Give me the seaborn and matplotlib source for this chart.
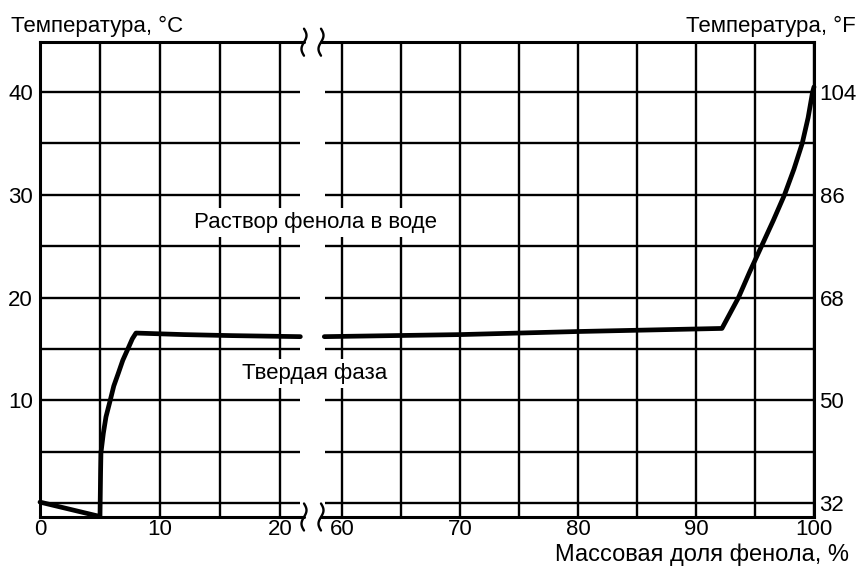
import matplotlib
matplotlib.use('Agg')
import matplotlib.pyplot as plt
from matplotlib.lines import Line2D
import numpy as np
import seaborn as sns

# phenol mass fraction, % -> temperature, °C
left_x = [0, 5.0, 5.05, 5.08, 5.28, 5.5, 5.83, 6.15, 6.53, 6.9, 7.36, 7.7, 8.0, 12.0, 16.0, 21.7]
left_y = [0.1, -1.3, 3.0, 4.9, 6.8, 8.4, 9.9, 11.4, 12.65, 13.9, 15.1, 16.0, 16.55, 16.4, 16.3, 16.2]
right_x = [58.5, 70, 80, 92.2, 93.6, 94.55, 95.55, 96.55, 97.5, 98.3, 99.0, 99.5, 99.88, 100]
right_y = [16.2, 16.4, 16.7, 17.0, 20.0, 22.5, 25.0, 27.5, 30.0, 32.5, 35.0, 37.5, 40.0, 40.5]

left_xticks = [0, 5, 10, 15, 20]
left_xlabels = ['0', '', '10', '', '20']
right_xticks = [60, 65, 70, 75, 80, 85, 90, 95, 100]
right_xlabels = ['60', '', '70', '', '80', '', '90', '', '100']
temp_c_ticks = [0, 5, 10, 15, 20, 25, 30, 35, 40]
temp_c_labels = ['', '', '10', '', '20', '', '30', '', '40']
temp_f_labels = ['32', '', '50', '', '68', '', '86', '', '104']

sns.set_theme(style='white')
plt.rcParams['font.family'] = ['Liberation Sans', 'DejaVu Sans']
plt.rcParams['text.color'] = 'black'
plt.rcParams['xtick.color'] = 'black'
plt.rcParams['ytick.color'] = 'black'

W, H = 859, 568
FS = 16
fig = plt.figure(figsize=(W / 100, H / 100), dpi=100)


def px_box(x0, x1, y_top, y_bot):
    return [x0 / W, 1 - y_bot / H, (x1 - x0) / W, (y_bot - y_top) / H]


ax1 = fig.add_axes(px_box(40, 300, 41.7, 516.5))
ax2 = fig.add_axes(px_box(325, 814, 41.7, 516.5))

for ax in (ax1, ax2):
    ax.set_ylim(-1.3, 44.9)
    ax.set_yticks(temp_c_ticks)
    ax.grid(True, color='black', linewidth=1.7)
    ax.set_axisbelow(True)
    ax.tick_params(length=0, labelsize=FS, colors='black')
    for sp in ax.spines.values():
        sp.set_color('black')
        sp.set_linewidth(2.2)

ax1.set_xlim(0, 21.67)
ax1.set_xticks(left_xticks)
ax1.set_xticklabels(left_xlabels)
ax1.set_yticklabels(temp_c_labels)
ax1.spines['right'].set_visible(False)
ax1.tick_params(axis='y', pad=5)
ax1.tick_params(axis='x', pad=2)

ax2.set_xlim(58.56, 100)
ax2.set_xticks(right_xticks)
ax2.set_xticklabels(right_xlabels)
ax2.yaxis.tick_right()
ax2.set_yticklabels(temp_f_labels)
ax2.spines['left'].set_visible(False)
ax2.tick_params(axis='y', pad=4)
ax2.tick_params(axis='x', pad=2)

sns.lineplot(x=left_x, y=left_y, ax=ax1, color='black', linewidth=3.4,
             sort=False, estimator=None, clip_on=False)
sns.lineplot(x=right_x, y=right_y, ax=ax2, color='black', linewidth=3.4,
             sort=False, estimator=None, clip_on=False)
for ax in (ax1, ax2):
    ax.set_xlabel('')
    ax.set_ylabel('')

# region labels, spanning the axis break
box = dict(facecolor='white', edgecolor='none', pad=3)
fig.text(23.0, 27.3, 'Раствор фенола в воде', transform=ax1.transData,
         ha='center', va='center', fontsize=FS, bbox=box, zorder=5)
fig.text(22.9, 12.6, 'Твердая фаза', transform=ax1.transData,
         ha='center', va='center', fontsize=FS, bbox=box, zorder=5)

# axis titles
fig.text(11 / W, 1 - 32 / H, 'Температура, °C', ha='left', va='baseline', fontsize=FS)
fig.text(856 / W, 1 - 32 / H, 'Температура, °F', ha='right', va='baseline', fontsize=FS)
fig.text(849 / W, 1 - 561 / H, 'Массовая доля фенола, %', ha='right', va='baseline', fontsize=17)


# break marks on the x axis
def squiggle(xc, yc):
    t = np.linspace(0, 1, 40)
    xs = xc + 2.5 * np.sin(2 * np.pi * t)
    ys = yc - 13 + 27 * t
    fig.add_artist(Line2D(xs / W, 1 - ys / H, transform=fig.transFigure,
                          color='black', linewidth=1.7))


for yc in (41.7, 516.5):
    fig.add_artist(Line2D([300 / W, 304 / W], [1 - yc / H] * 2,
                          transform=fig.transFigure, color='black', linewidth=2.2))
    fig.add_artist(Line2D([321 / W, 325 / W], [1 - yc / H] * 2,
                          transform=fig.transFigure, color='black', linewidth=2.2))
    squiggle(304, yc)
    squiggle(321, yc)

fig.savefig('out.png', dpi=100, facecolor='white')
plt.close(fig)
